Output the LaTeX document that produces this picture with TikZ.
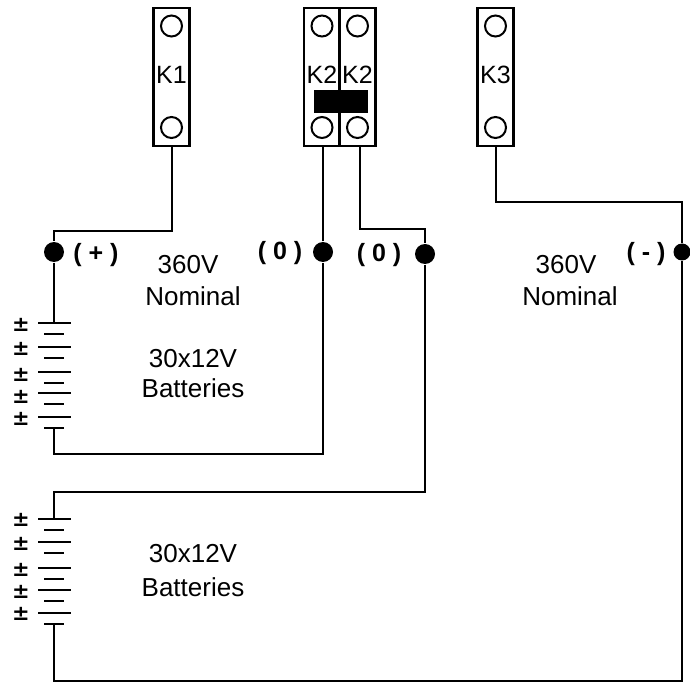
\documentclass[tikz,border=0pt]{standalone}
\usepackage{fontspec}
\setmainfont{Liberation Sans}
\newfontfamily\plusfont{DejaVu Sans Bold}
\begin{document}
\begin{tikzpicture}
  [x=1pt,y=-1pt,line width=1.4pt,
   every node/.style={inner sep=0pt,font=\fontsize{26}{30}\selectfont},
   relay/.style={draw,line width=2.2pt,minimum width=36pt,minimum height=138pt},
   stud/.style={circle,draw,line width=2pt,minimum size=21pt},
   term/.style={circle,fill=black,minimum size=20pt},
   tag/.style={font=\fontsize{25}{29}\selectfont},
   pole/.style={font=\fontsize{25}{29}\selectfont\bfseries},
   plus/.style={font=\fontsize{21}{24}\selectfont\plusfont},
   note/.style={align=center}]
  \useasboundingbox (0,0) rectangle (690,684);
  % contactors
  \foreach \name/\x/\lbl in {nka/171.5/K1,nkb/322/K2,nkc/357.5/K2,nkd/495.5/K3} {
    \node[relay] (\name) at (\x,77) {};
    \node[tag] (\name l) at (\x,75) {\lbl};
    \node[stud] (\name t) at (\x,26) {};
    \node[stud] (\name b) at (\x,127.5) {};
  }
  \node[fill=black,minimum width=54pt,minimum height=23pt] (nbar) at (341,101.5) {};
  % terminals
  \node[term] (npos) at (54,252) {};
  \node[term] (nza) at (323,252) {};
  \node[term] (nzb) at (425,254) {};
  \node[term,minimum size=17pt] (nneg) at (682,252) {};
  \node[pole] (lpos) at (96,255) {( + )};
  \node[pole] (lza) at (280,253) {( 0 )};
  \node[pole] (lzb) at (379,255) {( 0 )};
  \node[pole] (lneg) at (646,254) {( - )};
  % texts
  \node[note] (va) at (188,265) {360V};
  \node[note] (na) at (193,296) {Nominal};
  \node[note] (vb) at (566,265) {360V};
  \node[note] (nb) at (570,296) {Nominal};
  \node[note] (ba) at (193,359) {30x12V};
  \node[note] (bb) at (193,388) {Batteries};
  \node[note] (bc) at (193,554) {30x12V};
  \node[note] (bd) at (193,587) {Batteries};
  % batteries
  \foreach \y/\k in {323/1,347/2,372/3,393/4,417/5,519/6,542/7,568/8,590/9,613/10} {
    \coordinate (pl\k) at (38,\y);
    \coordinate (pr\k) at (71,\y);
    \draw (pl\k) -- (pr\k);
    \draw (44,\y+11) -- (64,\y+11);
  }
  \foreach \y in {325,349,375,397,419,520,544,570,592,614}
    \node[plus] at (21,\y) {±};
  \coordinate (ba1) at (54,323);
  \coordinate (ba2) at (54,427);
  \coordinate (ba3) at (54,454);
  \coordinate (bb1) at (54,519);
  \coordinate (bb2) at (54,624);
  \coordinate (bb3) at (54,681);
  \coordinate (ca) at (172,231);
  \coordinate (cb) at (54,231);
  \coordinate (cc) at (360,229);
  \coordinate (cd) at (425,229);
  \coordinate (ce) at (425,492);
  \coordinate (cf) at (54,492);
  \coordinate (cg) at (496,202);
  \coordinate (ch) at (682,202);
  \coordinate (ci) at (682,681);
  % wiring
  \draw (nka.south -| ca) -- (ca) -- (cb) -- (npos) -- (ba1);
  \draw (ba2) -- (ba3) -| (nza) -- (nkb.south -| nza);
  \draw (nkc.south -| cc) -- (cc) -- (cd) -- (nzb) -- (ce) -- (cf) -- (bb1);
  \draw (nkd.south -| cg) -- (cg) -- (ch) -- (nneg) -- (ci) -- (bb3) -- (bb2);
\end{tikzpicture}
\end{document}
